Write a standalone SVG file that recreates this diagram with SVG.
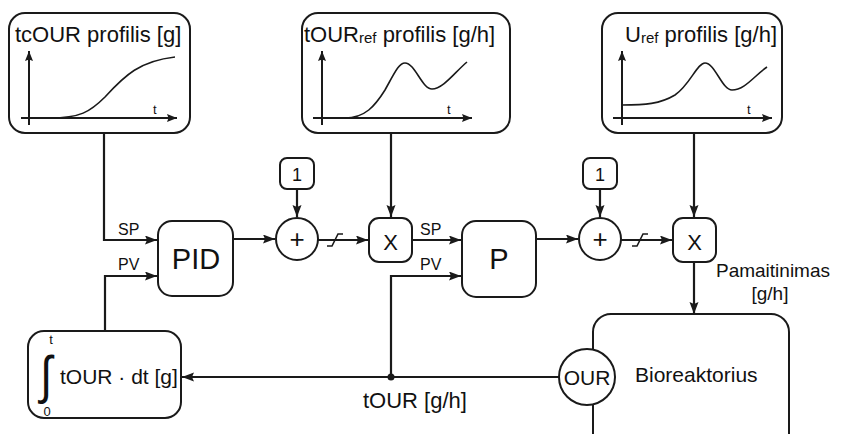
<svg xmlns="http://www.w3.org/2000/svg" width="854" height="434" viewBox="0 0 854 434">
<style>
.box{fill:#fff;stroke:#1a1a1a;stroke-width:2}
.ln{fill:none;stroke:#1a1a1a;stroke-width:2.2}
.ax{fill:none;stroke:#1a1a1a;stroke-width:2}
.cv{fill:none;stroke:#1a1a1a;stroke-width:1.6}
.sat{fill:none;stroke:#1a1a1a;stroke-width:1.6}
text{font-family:"Liberation Sans",Arial,sans-serif;fill:#111}
.t21{font-size:21px}
.t22{font-size:22px}
.lab{font-size:16px}
.sm{font-size:13px}
</style>
<defs>
<marker id="ar" markerUnits="userSpaceOnUse" markerWidth="12" markerHeight="10" refX="12" refY="4.5" orient="auto">
<path d="M0,0 L12,4.5 L0,9 L2,4.5 z" fill="#1a1a1a"/>
</marker>
<marker id="as" markerUnits="userSpaceOnUse" markerWidth="10" markerHeight="9" refX="10" refY="4" orient="auto">
<path d="M0,0 L10,4 L0,8 L1.5,4 z" fill="#1a1a1a"/>
</marker>
</defs>

<g id="connectors">
<polyline class="ln" points="104,133 104,240 157,240" marker-end="url(#ar)"/>
<polyline class="ln" points="105,331 105,276 157,276" marker-end="url(#ar)"/>
<line class="ln" x1="233" y1="239" x2="275" y2="239" marker-end="url(#ar)"/>
<line class="ln" x1="297" y1="189" x2="297" y2="217" marker-end="url(#ar)"/>
<line class="ln" x1="318" y1="240" x2="368" y2="240" marker-end="url(#ar)"/>
<polyline class="sat" points="327,246 332,246 338,234 343,234"/>
<line class="ln" x1="391" y1="133" x2="391" y2="217" marker-end="url(#ar)"/>
<line class="ln" x1="412" y1="240" x2="461" y2="240" marker-end="url(#ar)"/>
<polyline class="ln" points="391,377 391,276 461,276" marker-end="url(#ar)"/>
<line class="ln" x1="536" y1="239" x2="578" y2="239" marker-end="url(#ar)"/>
<line class="ln" x1="600" y1="190" x2="600" y2="217" marker-end="url(#ar)"/>
<line class="ln" x1="621" y1="240" x2="672" y2="240" marker-end="url(#ar)"/>
<polyline class="sat" points="632,246 637,246 643,234 648,234"/>
<line class="ln" x1="694" y1="133" x2="694" y2="217" marker-end="url(#ar)"/>
<line class="ln" x1="694" y1="262" x2="694" y2="314" marker-end="url(#ar)"/>
<line class="ln" x1="559" y1="377" x2="182" y2="377" marker-end="url(#ar)"/>
<circle cx="391" cy="377" r="3.5" fill="#1a1a1a"/>
<text class="lab" x="118" y="235">SP</text>
<text class="lab" x="118" y="270">PV</text>
<text class="lab" x="420" y="235">SP</text>
<text class="lab" x="420" y="270">PV</text>
<text class="t22" x="363" y="408">tOUR [g/h]</text>
<text x="773" y="277" font-size="19" text-anchor="middle">Pamaitinimas</text>
<text x="770" y="300" font-size="19" text-anchor="middle">[g/h]</text>
</g>

<g id="tcour-profile">
<rect class="box" x="9" y="13" width="181" height="120" rx="16"/>
<text class="t22" x="15" y="42">tcOUR profilis [g]</text>
<line class="ax" x1="29" y1="125" x2="29" y2="51" marker-end="url(#as)"/>
<line class="ax" x1="21" y1="118" x2="177" y2="118" marker-end="url(#as)"/>
<text class="sm" x="153" y="114">t</text>
<path class="cv" d="M50,118 C80,118 90,112 105,97 C125,75 140,61 175,57"/>
</g>

<g id="tourref-profile">
<rect class="box" x="302" y="13" width="208" height="120" rx="16"/>
<text class="t22" x="304" y="42">tOUR<tspan font-size="15" dy="1">ref</tspan><tspan dy="-1"> profilis [g/h]</tspan></text>
<line class="ax" x1="322" y1="125" x2="322" y2="51" marker-end="url(#as)"/>
<line class="ax" x1="313" y1="118" x2="472" y2="118" marker-end="url(#as)"/>
<text class="sm" x="447" y="114">t</text>
<path class="cv" d="M345,118 C365,118 375,106 385,90 C395,72 399,63 405,63 C415,63 422,89 432,89 C443,89 455,72 467,62"/>
</g>

<g id="uref-profile">
<rect class="box" x="602" y="13" width="180" height="120" rx="16"/>
<text class="t22" x="625" y="42">U<tspan font-size="15" dy="1">ref</tspan><tspan dy="-1"> profilis [g/h]</tspan></text>
<line class="ax" x1="622" y1="125" x2="622" y2="51" marker-end="url(#as)"/>
<line class="ax" x1="613" y1="118" x2="772" y2="118" marker-end="url(#as)"/>
<text class="sm" x="747" y="114">t</text>
<path class="cv" d="M622,105 C645,105 660,104 675,95 C690,85 697,63 705,63 C715,63 722,90 732,90 C745,90 755,75 767,67"/>
</g>

<g id="pid">
<rect class="box" x="158" y="221" width="75" height="75" rx="14"/>
<text x="196" y="269" font-size="29" text-anchor="middle">PID</text>
</g>

<g id="one1">
<rect class="box" x="280" y="158" width="34" height="31" rx="7"/>
<text x="297" y="181" font-size="18" text-anchor="middle">1</text>
</g>

<g id="plus1">
<circle class="box" cx="297" cy="239" r="21"/>
<text x="297" y="248" font-size="26" text-anchor="middle">+</text>
</g>

<g id="mult1">
<rect class="box" x="369" y="218" width="43" height="44" rx="10"/>
<text x="390.5" y="250" font-size="22" text-anchor="middle">X</text>
</g>

<g id="p">
<rect class="box" x="462" y="221" width="74" height="76" rx="14"/>
<text x="499" y="269" font-size="29" text-anchor="middle">P</text>
</g>

<g id="one2">
<rect class="box" x="583" y="158" width="34" height="31" rx="7"/>
<text x="600" y="181" font-size="18" text-anchor="middle">1</text>
</g>

<g id="plus2">
<circle class="box" cx="600" cy="239" r="21"/>
<text x="600" y="248" font-size="26" text-anchor="middle">+</text>
</g>

<g id="mult2">
<rect class="box" x="673" y="218" width="43" height="44" rx="10"/>
<text x="694.5" y="250" font-size="22" text-anchor="middle">X</text>
</g>

<g id="bioreactor">
<rect class="box" x="593" y="314" width="196" height="140" rx="18"/>
<text class="t21" x="635" y="382">Bioreaktorius</text>
</g>

<g id="our">
<circle class="box" cx="587" cy="377" r="28"/>
<text class="t21" x="587" y="385" text-anchor="middle">OUR</text>
</g>

<g id="integrator">
<rect class="box" x="28" y="331" width="153" height="87" rx="16"/>
<text transform="translate(46,393) scale(1.1,1.3)" font-size="40" font-family="DejaVu Sans" text-anchor="middle">∫</text>
<text class="sm" x="51" y="344" text-anchor="middle">t</text>
<text class="sm" x="47" y="416" text-anchor="middle">0</text>
<text class="t21" x="60" y="384">tOUR · dt [g]</text>
</g>
</svg>
